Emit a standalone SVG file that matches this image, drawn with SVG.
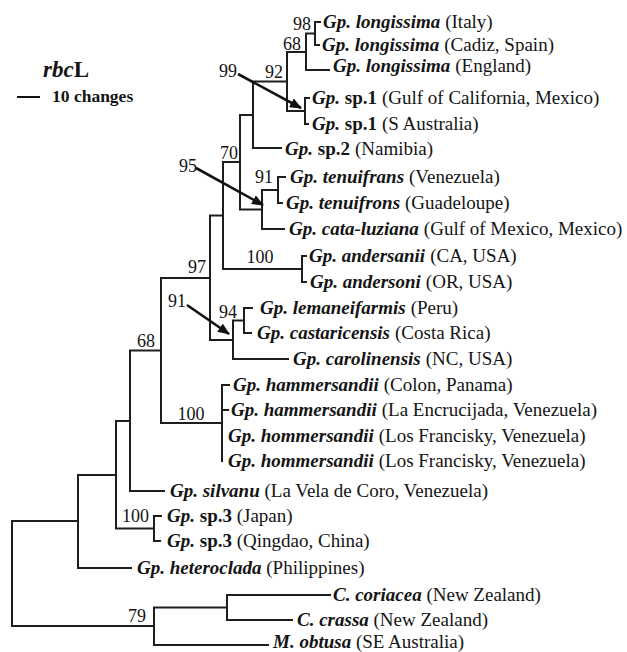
<svg xmlns="http://www.w3.org/2000/svg" width="627" height="652" viewBox="0 0 627 652">
<defs>
<style>
text{font-family:"Liberation Serif","Times New Roman",serif;fill:#141414}
.t{font-size:19px}
.n{font-weight:bold;font-style:italic}
.b{font-weight:bold}
.s{font-size:18px;fill:#333}
.br path{fill:none;stroke:#1e1e1e;stroke-width:2;stroke-linecap:square}
.ar{fill:none;stroke:#111;stroke-width:2.6}
</style>
<marker id="ah" markerUnits="userSpaceOnUse" markerWidth="12" markerHeight="10" refX="11" refY="5" orient="auto">
<path d="M0,0 L12,5 L0,10 z" fill="#111"/>
</marker>
</defs>
<rect width="627" height="652" fill="#fff"/>

<g id="legend">
<text x="43" y="77" style="font-size:23px"><tspan class="n">rbc</tspan><tspan class="b">L</tspan></text>
<path d="M17,97 H40" stroke="#111" stroke-width="2"/>
<text x="52" y="102" class="b" style="font-size:17.5px">10 changes</text>
</g>

<g id="connectors">
<g class="br">
<path d="M12,521 V626 M12,521 H78 M12,626 H154"/>
<path d="M78,475 V568 M78,568 H131 M78,475 H116"/>
<path d="M116,421 V528.5 M116,421 H130 M116,528.5 H154"/>
<path d="M154,516 V541 M154,516 H161 M154,541 H160"/>
<path d="M130,350.5 V491 M130,350.5 H161 M130,491 H164"/>
<path d="M161,278 V423 M161,278 H210 M161,423 H222"/>
<path d="M222,385 V461 M222,385 H229 M222,410 H228"/>
<path d="M210,215.5 V340 M210,215.5 H223 M210,340 H233"/>
<path d="M233,320.5 V359 M233,320.5 H244 M233,359 H288"/>
<path d="M244,308 V333 M244,308 H252 M244,333 H251"/>
<path d="M223,162 V269 M223,162 H240 M223,269 H302"/>
<path d="M302,256 V282 M302,256 H306 M302,282 H306"/>
<path d="M240,115 V209.5 M240,115 H253 M240,209.5 H262"/>
<path d="M262,190 V229 M262,190 H278 M262,229 H284"/>
<path d="M278,177 V203 M278,177 H285 M278,203 H282"/>
<path d="M253,81.5 V148 M253,81.5 H287 M253,148 H281"/>
<path d="M287,52 V111 M287,52 H306 M287,111 H305"/>
<path d="M305,98 V124 M305,98 H309 M305,124 H308"/>
<path d="M306,33.5 V70 M306,33.5 H315 M306,70 H329"/>
<path d="M315,22 V45 M315,22 H320 M315,45 H319"/>
<path d="M154,607.5 V645 M154,607.5 H227 M154,645 H268"/>
<path d="M227,595 V620 M227,595 H330 M227,620 H292"/>
</g>
<path class="ar" d="M238,74 L301,108" marker-end="url(#ah)"/>
<path class="ar" d="M196,168 L263,205" marker-end="url(#ah)"/>
<path class="ar" d="M187,305 L229,334" marker-end="url(#ah)"/>
</g>

<g id="supports" class="s">
<g id="node-98"><text x="311" y="30" text-anchor="end">98</text></g>
<g id="node-68a"><text x="301" y="50" text-anchor="end">68</text></g>
<g id="node-92"><text x="283" y="78" text-anchor="end">92</text></g>
<g id="node-99"><text x="237" y="77" text-anchor="end">99</text></g>
<g id="node-70"><text x="238" y="159" text-anchor="end">70</text></g>
<g id="node-95"><text x="197" y="172" text-anchor="end">95</text></g>
<g id="node-91a"><text x="273" y="183" text-anchor="end">91</text></g>
<g id="node-100a"><text x="260" y="263" text-anchor="middle">100</text></g>
<g id="node-97"><text x="206" y="273" text-anchor="end">97</text></g>
<g id="node-91b"><text x="186" y="307" text-anchor="end">91</text></g>
<g id="node-94"><text x="237" y="318" text-anchor="end">94</text></g>
<g id="node-68b"><text x="155" y="347" text-anchor="end">68</text></g>
<g id="node-100b"><text x="191" y="420" text-anchor="middle">100</text></g>
<g id="node-100c"><text x="149" y="522" text-anchor="end">100</text></g>
<g id="node-79"><text x="146" y="622" text-anchor="end">79</text></g>
</g>

<g id="tips" class="t">
<g id="tip1"><text x="323" y="28"><tspan class="n">Gp. longissima</tspan><tspan dx="5">(Italy)</tspan></text></g>
<g id="tip2"><text x="322" y="51"><tspan class="n">Gp. longissima</tspan><tspan dx="5">(Cadiz, Spain)</tspan></text></g>
<g id="tip3"><text x="333" y="72"><tspan class="n">Gp. longissima</tspan><tspan dx="5">(England)</tspan></text></g>
<g id="tip4"><text x="312" y="104"><tspan class="n">Gp.</tspan> <tspan class="b">sp.1</tspan><tspan dx="5">(Gulf of California, Mexico)</tspan></text></g>
<g id="tip5"><text x="312" y="130"><tspan class="n">Gp.</tspan> <tspan class="b">sp.1</tspan><tspan dx="5">(S Australia)</tspan></text></g>
<g id="tip6"><text x="285" y="155"><tspan class="n">Gp.</tspan> <tspan class="b">sp.2</tspan><tspan dx="5">(Namibia)</tspan></text></g>
<g id="tip7"><text x="290" y="183"><tspan class="n">Gp. tenuifrans</tspan><tspan dx="5">(Venezuela)</tspan></text></g>
<g id="tip8"><text x="286" y="209"><tspan class="n">Gp. tenuifrons</tspan><tspan dx="5">(Guadeloupe)</tspan></text></g>
<g id="tip9"><text x="289" y="235"><tspan class="n">Gp. cata-luziana</tspan><tspan dx="5">(Gulf of Mexico, Mexico)</tspan></text></g>
<g id="tip10"><text x="309" y="262"><tspan class="n">Gp. andersanii</tspan><tspan dx="5">(CA, USA)</tspan></text></g>
<g id="tip11"><text x="310" y="288"><tspan class="n">Gp. andersoni</tspan><tspan dx="5">(OR, USA)</tspan></text></g>
<g id="tip12"><text x="260" y="314"><tspan class="n">Gp. lemaneifarmis</tspan><tspan dx="5">(Peru)</tspan></text></g>
<g id="tip13"><text x="257" y="339"><tspan class="n">Gp. castaricensis</tspan><tspan dx="5">(Costa Rica)</tspan></text></g>
<g id="tip14"><text x="293" y="365"><tspan class="n">Gp. carolinensis</tspan><tspan dx="5">(NC, USA)</tspan></text></g>
<g id="tip15"><text x="233" y="391"><tspan class="n">Gp. hammersandii</tspan><tspan dx="5">(Colon, Panama)</tspan></text></g>
<g id="tip16"><text x="231" y="416"><tspan class="n">Gp. hammersandii</tspan><tspan dx="5">(La Encrucijada, Venezuela)</tspan></text></g>
<g id="tip17"><text x="228" y="442"><tspan class="n">Gp. hommersandii</tspan><tspan dx="5">(Los Francisky, Venezuela)</tspan></text></g>
<g id="tip18"><text x="228" y="467"><tspan class="n">Gp. hommersandii</tspan><tspan dx="5">(Los Francisky, Venezuela)</tspan></text></g>
<g id="tip19"><text x="170" y="497"><tspan class="n">Gp. silvanu</tspan> (La Vela de Coro, Venezuela)</text></g>
<g id="tip20"><text x="167" y="522"><tspan class="n">Gp.</tspan> <tspan class="b">sp.3</tspan> (Japan)</text></g>
<g id="tip21"><text x="167" y="547"><tspan class="n">Gp.</tspan> <tspan class="b">sp.3</tspan> (Qingdao, China)</text></g>
<g id="tip22"><text x="137" y="574"><tspan class="n">Gp. heteroclada</tspan> (Philippines)</text></g>
<g id="tip23"><text x="333" y="601"><tspan class="n">C. coriacea</tspan> (New Zealand)</text></g>
<g id="tip24"><text x="297" y="626"><tspan class="n">C. crassa</tspan> (New Zealand)</text></g>
<g id="tip25"><text x="273" y="648"><tspan class="n">M. obtusa</tspan> (SE Australia)</text></g>
</g>
</svg>
